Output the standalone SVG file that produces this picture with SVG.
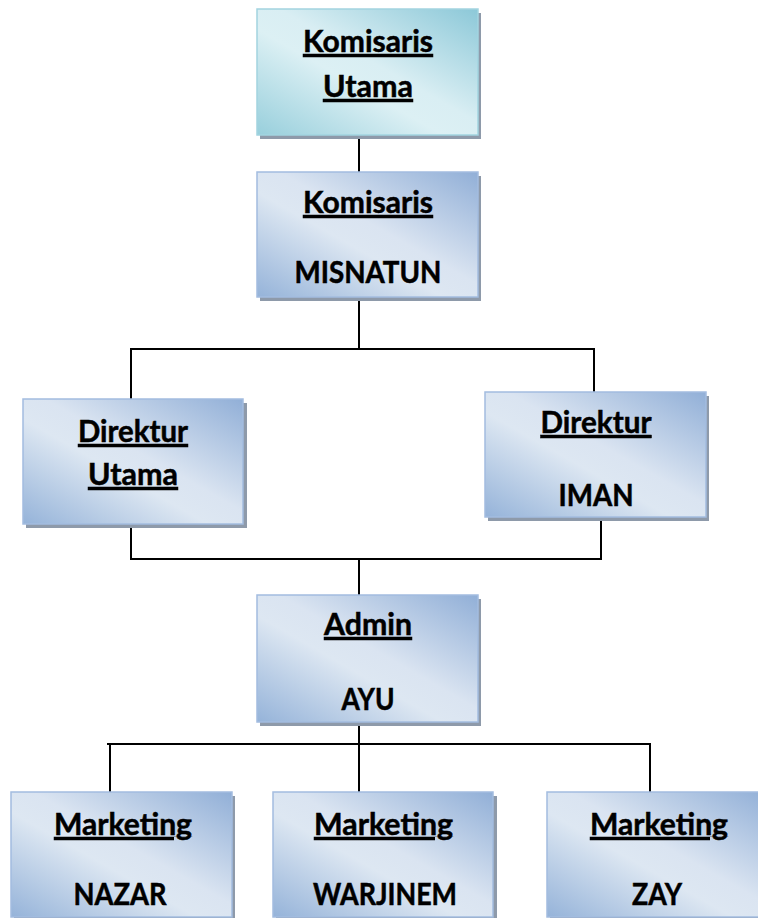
<svg xmlns="http://www.w3.org/2000/svg" width="758" height="918" viewBox="0 0 758 918">
<defs>
<linearGradient id="gBlue" x1="1" y1="0" x2="0" y2="1">
<stop offset="0" stop-color="#91afd7"/>
<stop offset="0.45" stop-color="#dae4f1"/>
<stop offset="0.58" stop-color="#dde7f2"/>
<stop offset="1" stop-color="#95b3d9"/>
</linearGradient>
<linearGradient id="gCyan" x1="1" y1="0" x2="0" y2="1">
<stop offset="0" stop-color="#8cc8d8"/>
<stop offset="0.45" stop-color="#d9eef3"/>
<stop offset="0.58" stop-color="#dcf0f4"/>
<stop offset="1" stop-color="#98cfdc"/>
</linearGradient>
</defs>
<style>
.sh{fill:#8e9aaa}
.bx{fill:url(#gBlue);stroke:#a3bcdf;stroke-width:1.5}
.cy{fill:url(#gCyan);stroke:#a2d4e0;stroke-width:1.5}
.t{font-family:Lato,"Liberation Sans",sans-serif;font-weight:bold;font-size:30px;fill:#000;stroke:#000;stroke-width:0.5;text-anchor:middle}
.u{text-decoration:underline}
.c{stroke:#000;stroke-width:2;fill:none}
</style>
<g id="connectors">
<line class="c" x1="359" y1="135" x2="359" y2="172"/>
<line class="c" x1="359" y1="297" x2="359" y2="349"/>
<line class="c" x1="130" y1="349" x2="595" y2="349"/>
<line class="c" x1="131" y1="349" x2="131" y2="399"/>
<line class="c" x1="594" y1="349" x2="594" y2="392"/>
<line class="c" x1="131" y1="524" x2="131" y2="560"/>
<line class="c" x1="601" y1="517" x2="601" y2="560"/>
<line class="c" x1="130" y1="559" x2="602" y2="559"/>
<line class="c" x1="359" y1="559" x2="359" y2="595"/>
<line class="c" x1="359" y1="722" x2="359" y2="792"/>
<line class="c" x1="107" y1="744" x2="651" y2="744"/>
<line class="c" x1="110" y1="744" x2="110" y2="792"/>
<line class="c" x1="650" y1="744" x2="650" y2="792"/>
</g>
<g id="komisaris-utama">
<rect class="sh" x="260" y="13" width="221" height="126"/>
<rect class="cy" x="257" y="9" width="221" height="126"/>
<text class="t u" x="368" y="52" textLength="130" lengthAdjust="spacingAndGlyphs">Komisaris</text>
<text class="t u" x="368" y="97" textLength="90" lengthAdjust="spacingAndGlyphs">Utama</text>
</g>
<g id="komisaris">
<rect class="sh" x="260" y="176" width="221" height="125"/>
<rect class="bx" x="257" y="172" width="221" height="125"/>
<text class="t u" x="368" y="213" textLength="130" lengthAdjust="spacingAndGlyphs">Komisaris</text>
<text class="t" x="368" y="283" textLength="147" lengthAdjust="spacingAndGlyphs">MISNATUN</text>
</g>
<g id="direktur-utama">
<rect class="sh" x="26" y="403" width="221" height="125"/>
<rect class="bx" x="23" y="399" width="220" height="125"/>
<text class="t u" x="133" y="442" textLength="110" lengthAdjust="spacingAndGlyphs">Direktur</text>
<text class="t u" x="133" y="485" textLength="90" lengthAdjust="spacingAndGlyphs">Utama</text>
</g>
<g id="direktur-iman">
<rect class="sh" x="488" y="396" width="221" height="125"/>
<rect class="bx" x="485" y="392" width="221" height="125"/>
<text class="t u" x="596" y="433" textLength="111" lengthAdjust="spacingAndGlyphs">Direktur</text>
<text class="t" x="596" y="506" textLength="75" lengthAdjust="spacingAndGlyphs">IMAN</text>
</g>
<g id="admin">
<rect class="sh" x="260" y="599" width="221" height="127"/>
<rect class="bx" x="257" y="595" width="221" height="127"/>
<text class="t u" x="368" y="635" textLength="88" lengthAdjust="spacingAndGlyphs">Admin</text>
<text class="t" x="368" y="710" textLength="53" lengthAdjust="spacingAndGlyphs">AYU</text>
</g>
<g id="marketing-nazar">
<rect class="sh" x="14" y="796" width="221" height="126"/>
<rect class="bx" x="11" y="792" width="221" height="125"/>
<text class="t u" x="123" y="835" textLength="138" lengthAdjust="spacingAndGlyphs">Marketing</text>
<text class="t" x="120" y="905" textLength="93" lengthAdjust="spacingAndGlyphs">NAZAR</text>
</g>
<g id="marketing-warjinem">
<rect class="sh" x="276" y="796" width="221" height="126"/>
<rect class="bx" x="273" y="792" width="220" height="125"/>
<text class="t u" x="383.5" y="835" textLength="139" lengthAdjust="spacingAndGlyphs">Marketing</text>
<text class="t" x="385" y="905" textLength="144" lengthAdjust="spacingAndGlyphs">WARJINEM</text>
</g>
<g id="marketing-zay">
<rect class="sh" x="550" y="796" width="221" height="126"/>
<rect class="bx" x="547" y="792" width="221" height="125"/>
<text class="t u" x="659" y="835" textLength="138" lengthAdjust="spacingAndGlyphs">Marketing</text>
<text class="t" x="657" y="905" textLength="50" lengthAdjust="spacingAndGlyphs">ZAY</text>
</g>
</svg>
